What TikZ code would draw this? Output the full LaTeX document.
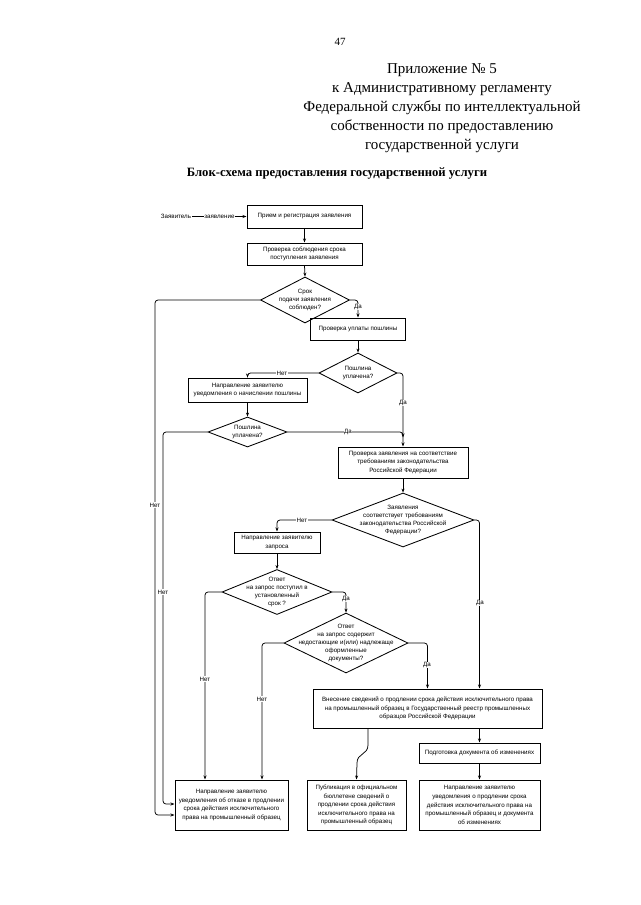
\documentclass[tikz,border=0pt]{standalone}
\usepackage{fontspec}
\setmainfont{Liberation Serif}
\newfontfamily\chartfont{Liberation Sans}
\usetikzlibrary{shapes.geometric,arrows.meta,calc}
\begin{document}
\begin{tikzpicture}[x=1pt,y=-1pt,
  box/.style={draw, line width=1pt, font=\chartfont\fontsize{6.2}{8.6}\selectfont, align=center, inner sep=1pt},
  dia/.style={draw, line width=0.85pt, diamond, inner sep=0pt},
  dtext/.style={font=\chartfont\fontsize{6.2}{8}\selectfont, align=center, inner sep=0pt},
  line/.style={line width=0.75pt},
  arr/.style={line width=0.75pt, -{Stealth[length=4pt,width=3pt]}},
  lbl/.style={font=\chartfont\fontsize{6.2}{7}\selectfont, fill=white, inner sep=0.6pt},
  hdr/.style={font=\fontsize{15}{19}\selectfont, anchor=base},
  rc/.style={rounded corners=3pt}]
\useasboundingbox (0,0) rectangle (640,905);
\fill[white] (0,0) rectangle (640,905);

% header
\node[font=\fontsize{11}{13}\selectfont] (pg) at (340,42) {47};
\node[hdr] (h1) at (442,73) {Приложение № 5};
\node[hdr] (h2) at (442,92.5) {к Административному регламенту};
\node[hdr] (h3) at (442,111.5) {Федеральной службы по интеллектуальной};
\node[hdr] (h4) at (442,130.5) {собственности по предоставлению};
\node[hdr] (h5) at (442,149.5) {государственной услуги};
\node[font=\bfseries\fontsize{12.7}{14}\selectfont, anchor=base] (ttl) at (337,176) {Блок-схема предоставления государственной услуги};

% nodes
\node[box, minimum width=115pt, minimum height=23pt] (b1) at (304.5,216.5) {Прием и регистрация заявления};
\node[font=\chartfont\fontsize{6.2}{7}\selectfont, inner sep=1pt] (zv) at (176,216.5) {Заявитель};
\node[box, minimum width=115pt, minimum height=22pt] (b2) at (304.5,254) {Проверка соблюдения срока\\поступления заявления};
\node[dia, minimum width=89pt, minimum height=46pt] (d1) at (305,300) {};
\node[dtext] (d1t) at (d1) {Срок\\подачи заявления\\соблюден?};
\node[box, minimum width=95pt, minimum height=22pt] (b3) at (358,329) {Проверка уплаты пошлины};
\node[dia, minimum width=78pt, minimum height=40pt] (d2) at (358,373) {};
\node[dtext] (d2t) at (d2) {Пошлина\\уплачена?};
\node[box, minimum width=119pt, minimum height=24pt] (b4) at (247.5,390) {Направление заявителю\\уведомления о начислении пошлины};
\node[dia, minimum width=79pt, minimum height=30pt] (d3) at (247.5,432) {};
\node[dtext] (d3t) at (d3) {Пошлина\\уплачена?};
\node[box, minimum width=130pt, minimum height=31pt] (b5) at (403,462.5) {Проверка заявления на соответствие\\требованиям законодательства\\Российской Федерации};
\node[dia, minimum width=142pt, minimum height=54pt] (d4) at (403,520) {};
\node[dtext] (d4t) at (d4) {Заявления\\соответствует требованиям\\законодательства Российской\\Федерации?};
\node[box, minimum width=86pt, minimum height=21pt] (b6) at (277,542.5) {Направление заявителю\\запроса};
\node[dia, minimum width=110pt, minimum height=45pt] (d5) at (277,592) {};
\node[dtext] (d5t) at (d5) {Ответ\\на запрос поступил в\\установленный\\срок ?};
\node[dia, minimum width=124pt, minimum height=60pt] (d6) at (346,643) {};
\node[dtext] (d6t) at (d6) {Ответ\\на запрос содержит\\недостающие и(или) надлежаще\\оформленные\\документы?};
\node[box, minimum width=229pt, minimum height=39pt] (b8) at (427.5,708.5) {Внесение сведений о продлении срока действия исключительного права\\на промышленный образец в Государственный реестр промышленных\\образцов Российской Федерации};
\node[box, minimum width=121pt, minimum height=20pt] (b9) at (479.5,753) {Подготовка документа об изменениях};
\node[box, minimum width=113pt, minimum height=50pt] (b7) at (231.5,805) {Направление заявителю\\уведомления об отказе в продлении\\срока действия исключительного\\права на промышленный образец};
\node[box, minimum width=99pt, minimum height=50pt] (b10) at (356.5,805) {Публикация в официальном\\бюллетене сведений о\\продлении срока действия\\исключительного права на\\промышленный образец};
\node[box, minimum width=121pt, minimum height=50pt] (b11) at (479.5,805) {Направление заявителю\\уведомления о продлении срока\\действия исключительного права на\\промышленный образец и документа\\об изменениях};

% connectors
\draw[arr] (zv.east) -- (b1.west) node[midway, lbl, anchor=center] (lzv) {заявление};
\draw[arr] (b1.south) -- (b2.north);
\draw[arr] (b2.south) -- (d1.north);
\coordinate (n1) at (155,815);
\draw[arr,rc] (d1.west) -| (n1) -- (n1 -| b7.west);
\node[lbl] (l1) at (155,505) {Нет};
\draw[arr,rc] (d1.east) -| (b3.north);
\node[lbl] (l2) at (358,307) {Да};
\draw[arr] (b3.south) -- (d2.north);
\draw[arr,rc] (d2.west) -| (b4.north);
\node[lbl] (l3) at (282,373) {Нет};
\draw[arr,rc] (d2.east) -| (b5.north);
\node[lbl] (l4) at (403,403) {Да};
\draw[arr] (b4.south) -- (d3.north);
\draw[arr,rc] (d3.east) -| ($(b5.north)+(0,-9)$);
\node[lbl] (l5) at (348,432) {Да};
\coordinate (n3) at (163,804);
\draw[arr,rc] (d3.west) -| (n3) -- (n3 -| b7.west);
\node[lbl] (l6) at (163,592) {Нет};
\draw[arr] (b5.south) -- (d4.north);
\draw[arr,rc] (d4.west) -| (b6.north);
\node[lbl] (l7) at (302,520) {Нет};
\draw[arr,rc] (d4.east) -| (b8.north -| b9.north);
\node[lbl] (l8) at (480,603) {Да};
\draw[arr] (b6.south) -- (d5.north);
\coordinate (n5) at (205,700);
\draw[arr,rc] (d5.west) -| (n5 |- b7.north);
\node[lbl] (l9) at (205,679) {Нет};
\draw[arr,rc] (d5.east) -| (d6.north);
\node[lbl] (l10) at (346,599) {Да};
\coordinate (n6) at (262,700);
\draw[arr,rc] (d6.west) -| (n6 |- b7.north);
\node[lbl] (l11) at (262,699) {Нет};
\draw[arr,rc] (d6.east) -| (b8.north);
\node[lbl] (l12) at (427,665) {Да};
\coordinate (s1) at (368,745);
\coordinate (s2) at (357,763);
\draw[arr] (b8.south -| s1) -- (s1) .. controls (368,755) and (357,753) .. (s2) -- (b10.north);
\draw[arr] (b8.south -| b9.north) -- (b9.north);
\draw[arr] (b9.south) -- (b11.north);
\end{tikzpicture}
\end{document}
